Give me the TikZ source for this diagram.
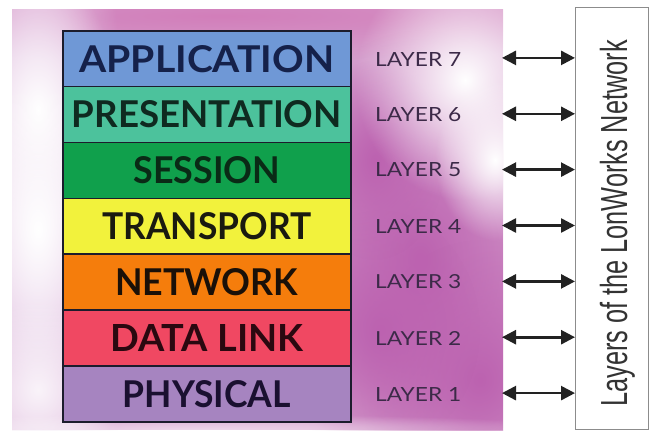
\documentclass[tikz,border=0pt]{standalone}
\usepackage{fontspec}
\usetikzlibrary{arrows.meta,fadings}
\newfontfamily\bandfont{Lato}
\newfontfamily\tagfont{Lato}
\newfontfamily\sidefont{Liberation Sans}

\definecolor{bgbase}{HTML}{D6A0CE}
\definecolor{bgdark}{HTML}{BC62B0}
\definecolor{bgpink}{HTML}{D27EBA}
\definecolor{bglav}{HTML}{EBD8EE}
\definecolor{appcol}{HTML}{6F98D6}
\definecolor{prescol}{HTML}{4CC29C}
\definecolor{sesscol}{HTML}{10A04C}
\definecolor{transcol}{HTML}{F2F23C}
\definecolor{netcol}{HTML}{F57D0C}
\definecolor{dlcol}{HTML}{F04862}
\definecolor{physcol}{HTML}{A684C0}
\definecolor{bandline}{HTML}{1C1C2C}
\definecolor{tagcol}{HTML}{3C2A48}
\definecolor{arrowcol}{HTML}{222222}
\definecolor{sidebox}{HTML}{8C8C8C}
\definecolor{sidetext}{HTML}{333333}

% soft radial fade for the mottled backdrop
\tikzfading[name=softblob, inner color=transparent!0, outer color=transparent!100]

% band caption scaled to a given width and cap height
\newcommand{\bandtext}[3]{\resizebox{#1pt}{27pt}{\color[HTML]{#2}\bandfont\bfseries #3}}
\newcommand{\tagtext}[1]{\resizebox{86pt}{14pt}{\tagfont #1}}

\tikzset{
  band/.style={draw=bandline, line width=1.6pt, fill=#1,
    minimum width=288pt, minimum height=55.86pt, inner sep=0pt,
    anchor=north west},
  tag/.style={text=tagcol, inner sep=0pt, anchor=west},
  dbl/.style={draw=arrowcol, line width=2.6pt,
    {Triangle[length=14pt,width=14pt]}-{Triangle[length=14pt,width=14pt]}},
  blob/.style={fill=#1, path fading=softblob},
}

\begin{document}
\begin{tikzpicture}[x=1pt,y=-1pt]
\useasboundingbox (0,0) rectangle (654,434);
\fill[white] (0,0) rectangle (654,434);

% mottled backdrop (each blob fades out at half its drawn radius)
\fill[bgbase] (12,9) rectangle (503,430);
\begin{scope}
  \clip (12,9) rectangle (503,430);
  \fill[blob=bgpink] (220,16) ellipse [x radius=520, y radius=44];
  \fill[blob=bgdark] (420,260) ellipse [x radius=160, y radius=230];
  \fill[blob=bgdark] (480,380) ellipse [x radius=120, y radius=140];
  \fill[blob=bgdark] (380,330) ellipse [x radius=100, y radius=120];
  \fill[blob=bgdark] (375,160) ellipse [x radius=70, y radius=100];
  \fill[blob=bglav] (37,230) ellipse [x radius=90, y radius=460];
  \fill[blob=white] (465,80) ellipse [x radius=110, y radius=120];
  \fill[blob=white] (495,160) ellipse [x radius=60, y radius=80];
  \fill[blob=white] (38,110) ellipse [x radius=80, y radius=140];
  \fill[blob=white] (38,230) ellipse [x radius=80, y radius=150];
  \fill[blob=white, opacity=0.8] (38,390) ellipse [x radius=80, y radius=90];
  \fill[blob=white, opacity=0.6] (200,430) ellipse [x radius=400, y radius=16];
\end{scope}

% the seven-layer stack
\node[band=appcol]   (app)   at (62,30)     {\bandtext{255}{15214A}{APPLICATION}};
\node[band=prescol]  (pres)  at (62,85.86)  {\bandtext{270}{0F2A20}{PRESENTATION}};
\node[band=sesscol]  (sess)  at (62,141.71) {\bandtext{147}{0A2A16}{SESSION}};
\node[band=transcol] (trans) at (62,197.57) {\bandtext{209}{1A1A10}{TRANSPORT}};
\node[band=netcol]   (netw)  at (62,253.43) {\bandtext{183}{1A1008}{NETWORK}};
\node[band=dlcol]    (dl)    at (62,309.29) {\bandtext{193}{2A0810}{DATA LINK}};
\node[band=physcol]  (phys)  at (62,365.14) {\bandtext{168}{1A1030}{PHYSICAL}};

% layer numbers
\node[tag] (l7) at (375,59)  {\tagtext{LAYER 7}};
\node[tag] (l6) at (375,115) {\tagtext{LAYER 6}};
\node[tag] (l5) at (375,170) {\tagtext{LAYER 5}};
\node[tag] (l4) at (375,226) {\tagtext{LAYER 4}};
\node[tag] (l3) at (375,282) {\tagtext{LAYER 3}};
\node[tag] (l2) at (375,338) {\tagtext{LAYER 2}};
\node[tag] (l1) at (375,394) {\tagtext{LAYER 1}};

% LonWorks side box
\node[draw=sidebox, line width=1pt, fill=white, minimum width=73pt,
      minimum height=422pt, inner sep=0pt, anchor=north west] (lon) at (575,7) {};
\node[rotate=90, anchor=base, inner sep=0pt, text=sidetext] (lontext) at (627,223.5)
  {\scalebox{0.671}[1]{\fontsize{37.7pt}{40pt}\sidefont Layers of the LonWorks Network}};

% arrows
\foreach \b/\y in {7/57.9, 6/113.8, 5/169.6, 4/225.5, 3/281.4, 2/337.2, 1/393.1}{
  \coordinate (s\b) at (502,\y);
  \draw[dbl] (s\b) -- (lon.west |- s\b);
}
\end{tikzpicture}
\end{document}
